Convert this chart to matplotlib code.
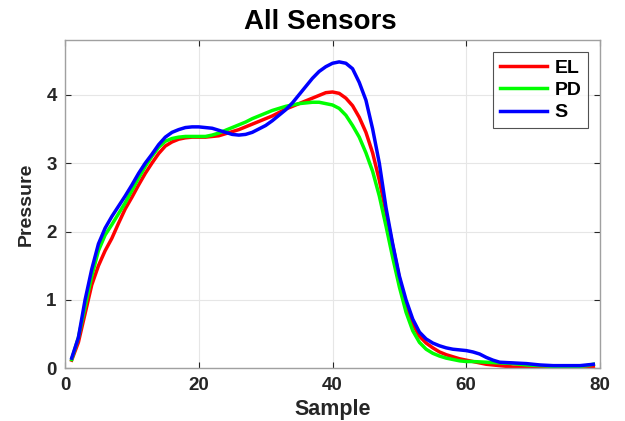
import matplotlib
matplotlib.use('Agg')
import matplotlib.pyplot as plt
import numpy as np

sample = list(range(1, 80))

el = [0.12, 0.38, 0.80, 1.22, 1.50, 1.72, 1.90, 2.12, 2.33, 2.50,
      2.68, 2.85, 3.00, 3.14, 3.25, 3.31, 3.35, 3.37, 3.38, 3.38,
      3.38, 3.39, 3.40, 3.43, 3.46, 3.49, 3.53, 3.57, 3.61, 3.65,
      3.69, 3.74, 3.79, 3.83, 3.87, 3.91, 3.95, 3.99, 4.03, 4.04,
      4.02, 3.95, 3.84, 3.67, 3.45, 3.15, 2.75, 2.28, 1.80, 1.32,
      0.90, 0.65, 0.47, 0.37, 0.30, 0.24, 0.20, 0.17, 0.14, 0.12,
      0.10, 0.08, 0.06, 0.05, 0.04, 0.03, 0.02, 0.02, 0.02, 0.02,
      0.02, 0.02, 0.02, 0.02, 0.02, 0.02, 0.02, 0.02, 0.03]

pd_ = [0.13, 0.45, 0.90, 1.35, 1.72, 1.95, 2.10, 2.26, 2.42, 2.60,
       2.78, 2.95, 3.10, 3.23, 3.32, 3.36, 3.38, 3.39, 3.39, 3.39,
       3.39, 3.41, 3.44, 3.48, 3.52, 3.56, 3.60, 3.65, 3.69, 3.73,
       3.77, 3.80, 3.83, 3.85, 3.87, 3.88, 3.89, 3.89, 3.87, 3.85,
       3.80, 3.70, 3.55, 3.38, 3.15, 2.88, 2.52, 2.08, 1.62, 1.19,
       0.82, 0.55, 0.38, 0.28, 0.22, 0.18, 0.15, 0.13, 0.11, 0.10,
       0.10, 0.095, 0.09, 0.085, 0.08, 0.075, 0.07, 0.06, 0.05, 0.045,
       0.04, 0.035, 0.03, 0.03, 0.03, 0.03, 0.03, 0.04, 0.06]

s = [0.15, 0.45, 1.00, 1.45, 1.82, 2.05, 2.22, 2.37, 2.52, 2.68,
     2.85, 3.00, 3.13, 3.27, 3.38, 3.45, 3.49, 3.52, 3.53, 3.53,
     3.52, 3.51, 3.48, 3.45, 3.42, 3.41, 3.42, 3.45, 3.50, 3.55,
     3.62, 3.70, 3.78, 3.88, 4.00, 4.12, 4.24, 4.34, 4.41, 4.46,
     4.48, 4.46, 4.38, 4.18, 3.92, 3.50, 3.00, 2.35, 1.82, 1.35,
     1.00, 0.72, 0.53, 0.43, 0.37, 0.33, 0.30, 0.28, 0.27, 0.26,
     0.24, 0.21, 0.16, 0.12, 0.09, 0.085, 0.08, 0.075, 0.07, 0.06,
     0.05, 0.045, 0.04, 0.04, 0.04, 0.04, 0.04, 0.05, 0.06]

plt.rcParams['font.family'] = ['Liberation Sans', 'DejaVu Sans']
plt.rcParams['font.weight'] = 'bold'

fig = plt.figure(figsize=(6.25, 4.21), dpi=100)
ax = fig.add_axes([0.104, 0.125, 0.856, 0.780])

ax.plot(sample, el, color='#ff0000', lw=2.5, label='EL')
ax.plot(sample, pd_, color='#00ff00', lw=2.5, label='PD')
ax.plot(sample, s, color='#0000ff', lw=2.5, label='S')

ax.set_xlim(0, 80)
ax.set_ylim(0, 4.8)
ax.set_xticks([0, 20, 40, 60, 80])
ax.set_yticks([0, 1, 2, 3, 4])
ax.grid(True, color='#e6e6e6', lw=0.8)
ax.set_axisbelow(True)
for sp in ax.spines.values():
    sp.set_color('#a0a0a0')
    sp.set_linewidth(1.0)
ax.tick_params(direction='in', length=4, colors='#262626', labelsize=13.5,
               top=True, right=True, pad=6)
for lbl in ax.get_xticklabels() + ax.get_yticklabels():
    lbl.set_fontweight('bold')

ax.set_xlabel('Sample', fontsize=15.5, fontweight='bold', color='#262626', labelpad=4)
ax.set_ylabel('Pressure', fontsize=14, fontweight='bold', color='#262626', labelpad=8)
ttl = ax.set_title('All Sensors', fontsize=20, fontweight='bold', color='black', pad=8)
ttl.set_x(0.478)

leg = ax.legend(loc='upper right', bbox_to_anchor=(0.985, 0.975), fontsize=14,
                frameon=True, fancybox=False, edgecolor='#262626',
                handlelength=2.4, borderpad=0.35, labelspacing=0.25, handletextpad=0.4,
                borderaxespad=0.2)
leg.get_frame().set_linewidth(0.8)
for t in leg.get_texts():
    t.set_fontweight('bold')

fig.savefig('out.png', dpi=100)
